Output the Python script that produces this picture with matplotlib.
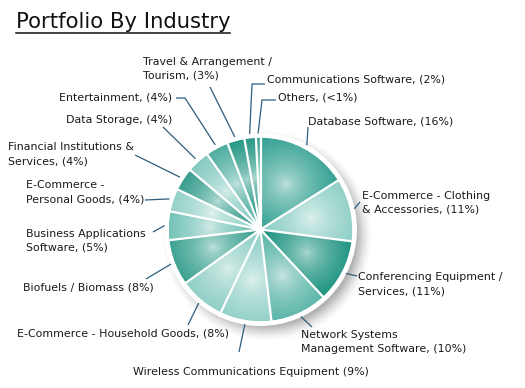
import numpy as np
import matplotlib.pyplot as plt
from matplotlib.patches import Polygon, Circle
from matplotlib.colors import to_rgb

# data, clockwise from 12 o'clock
labels = [
    "Database Software, (16%)",
    "E-Commerce - Clothing\n& Accessories, (11%)",
    "Conferencing Equipment /\nServices, (11%)",
    "Network Systems\nManagement Software, (10%)",
    "Wireless Communications Equipment (9%)",
    "E-Commerce - Household Goods, (8%)",
    "Biofuels / Biomass (8%)",
    "Business Applications\nSoftware, (5%)",
    "E-Commerce -\nPersonal Goods, (4%)",
    "Financial Institutions &\nServices, (4%)",
    "Data Storage, (4%)",
    "Entertainment, (4%)",
    "Travel & Arrangement /\nTourism, (3%)",
    "Communications Software, (2%)",
    "Others, (<1%)",
]
shares = [16, 11, 11, 10, 9, 8, 8, 5, 4, 4, 4, 4, 3, 2, 0.8]

# slice colours: rim colour, highlight colour
rim_cols = ["#23988a", "#7dc8bd", "#008570", "#40aa9b", "#80c9be", "#7cc7bc",
            "#1a917e", "#58b7aa", "#7cc8bc", "#108a78", "#6cc0b4", "#2a9c8c",
            "#008570", "#008570", "#1a927f"]
hi_cols = ["#cbe8e2", "#e6f4f2", "#b6ddd6", "#d2eae6", "#e6f4f2", "#e2f2ef",
           "#c8e6e0", "#dcefec", "#e6f4f2", "#c2e3dd", "#dcefec", "#cce8e3",
           "#b2dbd4", "#b6ddd6", "#c2e3dd"]

# label layout in pixels: text (x, y, ha) and leader points from text side
lab_pos = [(308, 122, "left"), (362, 203, "left"), (358, 284, "left"),
           (301, 342, "left"), (133, 372, "left"), (17, 334, "left"),
           (23, 287, "left"), (26, 241, "left"), (26, 192, "left"),
           (8, 154, "left"), (172, 120, "right"), (172, 98, "right"),
           (143, 69, "left"), (267, 80, "left"), (278, 98, "left")]
leaders = [[(308, 127)], [(360, 202)], [(357, 276)], [(312, 327)],
           [(239, 352)], [(188, 325)], [(146, 279)], [(153, 232)],
           [(145, 200)], [(135, 155)], [(163, 127)], [(176, 98), (185, 98)],
           [(210, 87)], [(265, 84), (252, 84)], [(276, 100), (262, 100)]]

cx, cy, R = 260.5, 229.5, 92.0

fig = plt.figure(figsize=(5.25, 3.88), dpi=100)
ax = fig.add_axes([0, 0, 1, 1])
ax.set_xlim(0, 525)
ax.set_ylim(388, 0)
ax.axis("off")


def pt(a, r):
    a = np.radians(a)
    return cx + r * np.sin(a), cy - r * np.cos(a)


# soft drop shadow
S = R + 24
xs = np.linspace(cx - S, cx + S, 300)
ys = np.linspace(cy - S, cy + S, 300)
X, Y = np.meshgrid(xs, ys)
d = np.hypot(X - (cx + 6), Y - (cy + 7))
sh = np.zeros((300, 300, 4))
sh[..., :3] = 0.4
sh[..., 3] = 0.5 * np.clip((R + 14 - d) / 16, 0, 1) ** 1.5
ax.imshow(sh, extent=(cx - S, cx + S, cy + S, cy - S), origin="upper",
          interpolation="bilinear", zorder=1)
ax.add_patch(Circle((cx, cy), R + 4.5, facecolor="white", edgecolor="none", zorder=2))

# slices with radial gradients
N = 400
xs = np.linspace(cx - R, cx + R, N)
ys = np.linspace(cy - R, cy + R, N)
X, Y = np.meshgrid(xs, ys)
tot = sum(shares)
start = 0.0
bounds = []
for i, v in enumerate(shares):
    a0 = start / tot * 360
    a1 = (start + v) / tot * 360
    start += v
    bounds.append(a0)
    am = (a0 + a1) / 2
    hx, hy = pt(am, 0.56 * R)
    t = np.clip(np.hypot(X - hx, Y - hy) / (0.68 * R), 0, 1) ** 0.6
    c0 = np.array(to_rgb(hi_cols[i]))
    c1 = np.array(to_rgb(rim_cols[i]))
    img = c0 * (1 - t[..., None]) + c1 * t[..., None]
    angs = np.linspace(a0, a1, 60)
    poly = [(cx, cy)] + [pt(a, R) for a in angs]
    patch = Polygon(poly, closed=True, facecolor="none", edgecolor="none")
    ax.add_patch(patch)
    im = ax.imshow(img, extent=(cx - R, cx + R, cy + R, cy - R), origin="upper",
                   interpolation="bilinear", zorder=3)
    im.set_clip_path(patch)

    # leader line and label
    pts = [pt(am, R + 4)] + leaders[i][::-1]
    ax.plot([p[0] for p in pts], [p[1] for p in pts], color="#2d5d7b", lw=0.9,
            zorder=4, solid_capstyle="butt")
    x, y, ha = lab_pos[i]
    ax.text(x, y, labels[i], ha=ha, va="center", fontsize=7.9, color="#1a1a1a",
            linespacing=1.5, zorder=5)

for a in bounds:
    ex, ey = pt(a, R + 1)
    ax.plot([cx, ex], [cy, ey], color="white", lw=1.6, zorder=4)
ax.add_patch(Circle((cx, cy), R + 1.5, facecolor="none", edgecolor="white", lw=2.5, zorder=4))

# title
ax.text(16, 22, "Portfolio By Industry", fontsize=15.2, color="#111111",
        ha="left", va="center")
ax.plot([16, 230], [33, 33], color="#111111", lw=1.1)

fig.savefig("out.png", dpi=100)
